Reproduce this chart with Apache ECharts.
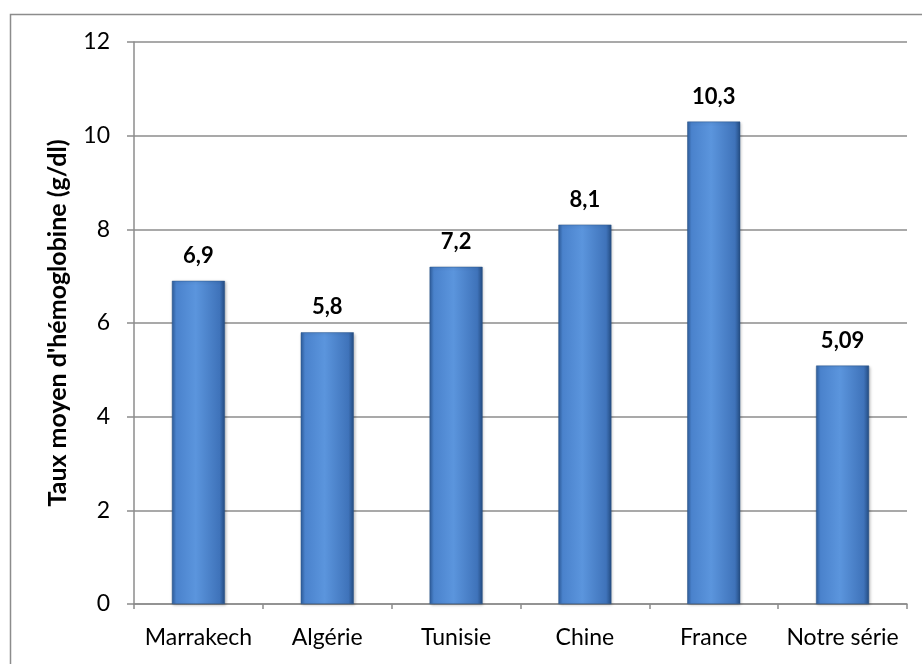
<!DOCTYPE html>
<html><head><meta charset="utf-8">
<script src="https://cdn.jsdelivr.net/npm/echarts@6/dist/echarts.min.js"></script>
<style>html,body{margin:0;padding:0;background:#fff}#c{width:922px;height:664px}</style>
</head><body><div id="c"></div>
<script>
const categories = ['Marrakech', 'Algérie', 'Tunisie', 'Chine', 'France', 'Notre série'];
const values = [6.9, 5.8, 7.2, 8.1, 10.3, 5.09];
const labels = ['6,9', '5,8', '7,2', '8,1', '10,3', '5,09'];
const yTicks = [0, 2, 4, 6, 8, 10, 12];

const chart = echarts.init(document.getElementById('c'));
const barColor = new echarts.graphic.LinearGradient(0, 0, 1, 0, [
  {offset: 0, color: '#2f5f9e'},
  {offset: 0.08, color: '#4a82cc'},
  {offset: 0.45, color: '#5b95dd'},
  {offset: 0.9, color: '#3f73ba'},
  {offset: 1, color: '#244c82'}
]);
const FONT = 'Lato, "Open Sans", sans-serif';
chart.setOption({
  animation: false,
  textStyle: {fontFamily: FONT},
  graphic: [{
    type: 'rect', left: 8, top: 12, silent: true,
    shape: {width: 940, height: 700},
    style: {fill: 'none', stroke: '#8c8c8c', lineWidth: 1.5}
  }],
  grid: {left: 134, right: 15, top: 42, bottom: 60, containLabel: false},
  xAxis: {
    type: 'category', data: categories,
    axisLine: {lineStyle: {color: '#8c8c8c', width: 1.5}},
    axisTick: {show: true, length: 5, lineStyle: {color: '#8c8c8c', width: 1.5}},
    axisLabel: {color: '#000', fontSize: 23, margin: 22, interval: 0, fontFamily: FONT}
  },
  yAxis: {
    type: 'value', min: 0, max: 12, interval: 2,
    name: "Taux moyen d'hémoglobine (g/dl)",
    nameLocation: 'middle', nameGap: 64, nameRotate: 90,
    nameMoveOverlap: false,
    nameTextStyle: {color: '#000', fontSize: 25, fontWeight: 'bold', fontFamily: FONT},
    axisLine: {show: true, lineStyle: {color: '#8c8c8c', width: 1.5}},
    axisTick: {show: true, length: 7, lineStyle: {color: '#8c8c8c', width: 1.5}},
    axisLabel: {color: '#000', fontSize: 23, margin: 24, fontFamily: FONT,
      formatter: v => yTicks.includes(v) ? String(v) : ''},
    splitLine: {lineStyle: {color: '#8c8c8c', width: 1.5}}
  },
  series: [{
    type: 'bar',
    data: values.map((v, i) => ({value: v, label: {formatter: labels[i]}})),
    barWidth: 53,
    itemStyle: {color: barColor, borderColor: '#2b5488', borderWidth: 0.5,
      shadowColor: 'rgba(0,0,0,0.25)', shadowBlur: 3, shadowOffsetX: 1, shadowOffsetY: 1},
    label: {show: true, position: 'top', distance: 14, color: '#000',
      fontSize: 22, fontWeight: 'bold', fontFamily: FONT}
  }]
});
</script></body></html>
